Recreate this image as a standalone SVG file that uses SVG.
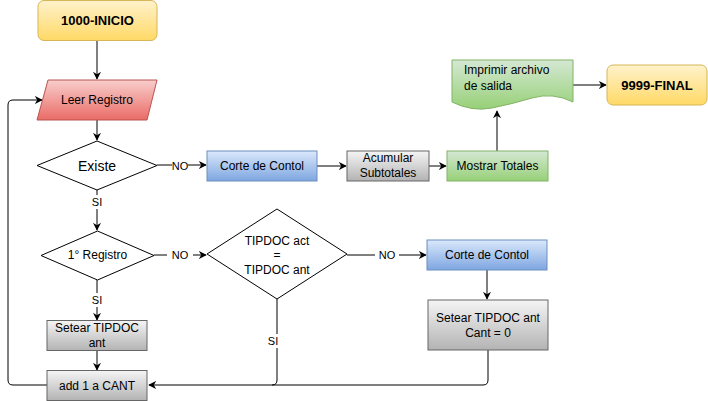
<svg xmlns="http://www.w3.org/2000/svg" width="708" height="401" viewBox="0 0 708 401">
<defs>
<linearGradient id="gy" x1="0" y1="0" x2="0" y2="1"><stop offset="0" stop-color="#fff2cc"/><stop offset="1" stop-color="#ffd966"/></linearGradient>
<linearGradient id="gr" x1="0" y1="0" x2="0" y2="1"><stop offset="0" stop-color="#f8cecc"/><stop offset="1" stop-color="#ea6b66"/></linearGradient>
<linearGradient id="gb" x1="0" y1="0" x2="0" y2="1"><stop offset="0" stop-color="#dae8fc"/><stop offset="1" stop-color="#7ea6e0"/></linearGradient>
<linearGradient id="gg" x1="0" y1="0" x2="0" y2="1"><stop offset="0" stop-color="#f5f5f5"/><stop offset="1" stop-color="#b3b3b3"/></linearGradient>
<linearGradient id="gn" x1="0" y1="0" x2="0" y2="1"><stop offset="0" stop-color="#d5e8d4"/><stop offset="1" stop-color="#97d077"/></linearGradient>
<marker id="arr" viewBox="0 0 10 10" refX="9" refY="5" markerWidth="8" markerHeight="8" markerUnits="userSpaceOnUse" orient="auto">
<path d="M0,0 L10,5 L0,10 L3,5 z" fill="#000"/>
</marker>
</defs>
<style>
text{font-family:"Liberation Sans",Arial,sans-serif;font-size:12px;fill:#000;text-anchor:middle;dominant-baseline:central}
.b{font-weight:bold;font-size:13px}
.big{font-size:14px}
.lbl{font-size:11px}
.c{fill:none;stroke:#000;stroke-width:1}
.y{fill:url(#gy);stroke:#d6b656}
.r{fill:url(#gr);stroke:#b85450}
.bl{fill:url(#gb);stroke:#6c8ebf}
.g{fill:url(#gg);stroke:#666666}
.n{fill:url(#gn);stroke:#82b366}
.d{fill:#fff;stroke:#000}
</style>
<g id="connectors">
<path class="c" d="M97,40 V79" marker-end="url(#arr)"/>
<path class="c" d="M97,120 V140" marker-end="url(#arr)"/>
<path class="c" d="M157,165 H172 M187,165 H206" marker-end="url(#arr)"/>
<path class="c" d="M317,166 H346" marker-end="url(#arr)"/>
<path class="c" d="M429,166 H446" marker-end="url(#arr)"/>
<path class="c" d="M497,151 V111" marker-end="url(#arr)"/>
<path class="c" d="M573,85 H606" marker-end="url(#arr)"/>
<path class="c" d="M97,190 V195 M97,209 V230" marker-end="url(#arr)"/>
<path class="c" d="M154,255 H167 M193,255 H206" marker-end="url(#arr)"/>
<path class="c" d="M97,280 V293 M97,307 V320" marker-end="url(#arr)"/>
<path class="c" d="M97,350 V370" marker-end="url(#arr)"/>
<path class="c" d="M347,255 H375 M399,255 H426" marker-end="url(#arr)"/>
<path class="c" d="M487,270 V299" marker-end="url(#arr)"/>
<path class="c" d="M488,350 V380 Q488,385 483,385 H149" marker-end="url(#arr)"/>
<path class="c" d="M277,299 V334 M277,348 V380 Q277,385 272,385"/>
<path class="c" d="M47,385 H13 Q8,385 8,380 V105 Q8,100 13,100 H42" marker-end="url(#arr)"/>
<g id="labels">
<rect x="172" y="159" width="16" height="12" fill="#fff"/>
<text x="180" y="166" class="lbl">NO</text>
<text x="97" y="202" class="lbl">SI</text>
<text x="180" y="255" class="lbl">NO</text>
<text x="387" y="255" class="lbl">NO</text>
<text x="97" y="300" class="lbl">SI</text>
<text x="273" y="341" class="lbl">SI</text>
</g>
</g>
<g id="inicio"><rect class="y" x="38" y="0.5" width="119" height="40" rx="6"/><text x="97.5" y="20.5" class="b">1000-INICIO</text></g>
<g id="leer"><polygon class="r" points="48,80 157,80 147,120 37,120"/><text x="97" y="100">Leer Registro</text></g>
<g id="existe"><polygon class="d" points="97,141 157,165.5 97,190 37,165.5"/><text x="97" y="165.5" class="big">Existe</text></g>
<g id="corte1"><rect class="bl" x="207" y="151" width="110" height="30"/><text x="262" y="166">Corte de Contol</text></g>
<g id="acumular"><rect class="g" x="347" y="151" width="82" height="30"/><text x="388" y="158">Acumular</text><text x="388" y="173">Subtotales</text></g>
<g id="mostrar"><rect class="n" x="447" y="151" width="101" height="30"/><text x="497.5" y="166">Mostrar Totales</text></g>
<g id="imprimir"><path class="n" d="M452,60 H573 V102 Q553,92 532,98 Q512,104 492,108 Q472,112 452,102 Z"/><text x="464" y="70" style="text-anchor:start">Imprimir archivo</text><text x="464" y="86" style="text-anchor:start">de salida</text></g>
<g id="final"><rect class="y" x="607" y="65" width="100" height="40" rx="6"/><text x="657" y="85" class="b">9999-FINAL</text></g>
<g id="primer"><polygon class="d" points="97.5,231 154,255.5 97.5,280 41,255.5"/><text x="97.5" y="255">1° Registro</text></g>
<g id="tipdoc"><polygon class="d" points="277,209 347,254 277,299 207,254"/><text x="277" y="241">TIPDOC act</text><text x="277" y="255">=</text><text x="277" y="270">TIPDOC ant</text></g>
<g id="corte2"><rect class="bl" x="427" y="240" width="120" height="30"/><text x="487" y="255">Corte de Contol</text></g>
<g id="setear2"><rect class="g" x="428" y="300" width="120" height="50"/><text x="488" y="318">Setear TIPDOC ant</text><text x="488" y="333">Cant = 0</text></g>
<g id="setear1"><rect class="g" x="47" y="320.5" width="100" height="30"/><text x="97" y="327.5">Setear TIPDOC</text><text x="97" y="342.5">ant</text></g>
<g id="add"><rect class="g" x="47" y="370.5" width="100" height="30"/><text x="97" y="385.5">add 1 a CANT</text></g>
</svg>
